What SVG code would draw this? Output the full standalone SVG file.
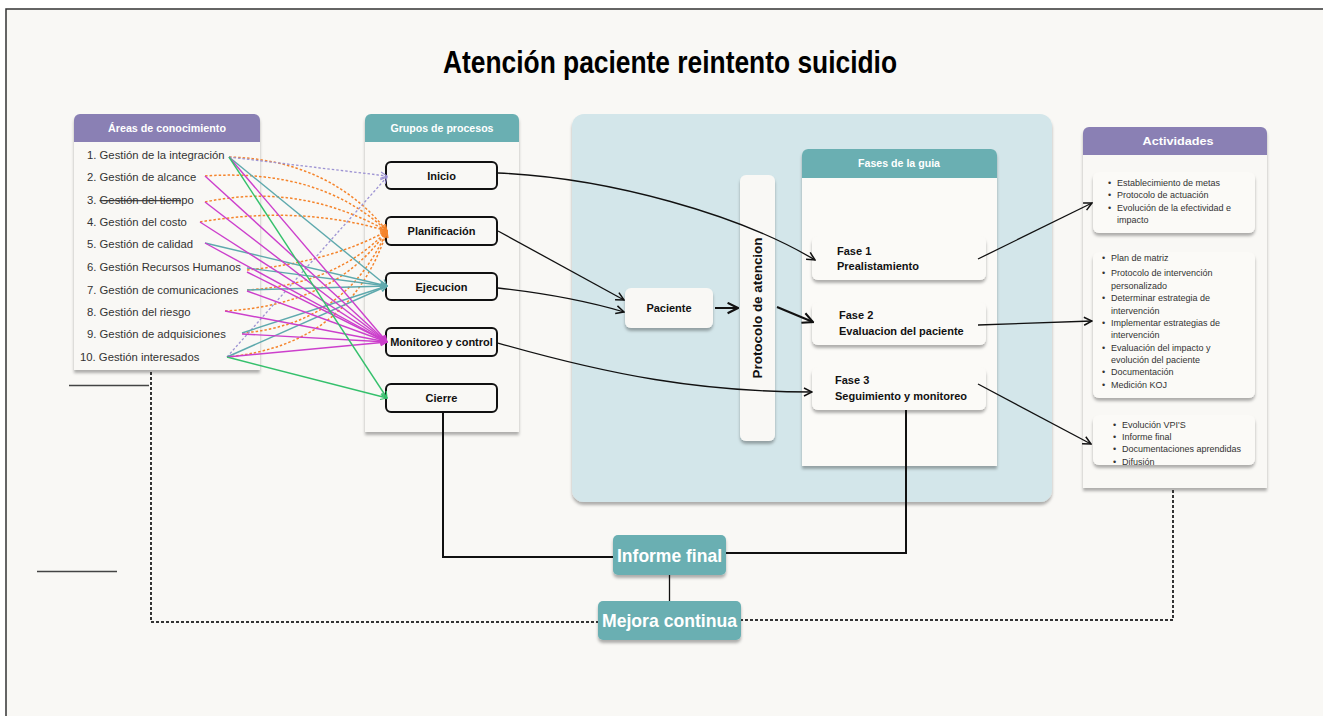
<svg xmlns="http://www.w3.org/2000/svg" width="1323" height="716" viewBox="0 0 1323 716">
<style>
text{font-family:"Liberation Sans",Arial,sans-serif}
.hdr{fill:#fff;font-weight:bold;font-size:11px;text-anchor:middle}
.item{fill:#333;font-size:11.3px}
.pbox{fill:#f9f8f5;stroke:#111;stroke-width:2}
.ptxt{fill:#111;font-weight:bold;font-size:11px;text-anchor:middle}
.ftxt{fill:#111;font-weight:bold;font-size:11px}
.atxt{fill:#333;font-size:9px}
.big{fill:#fff;font-weight:bold;font-family:"Liberation Sans Narrow","Liberation Sans",Arial,sans-serif;font-size:19px;text-anchor:middle}
.or{fill:none;stroke:#f5842b;stroke-width:1.5;stroke-dasharray:2.5 2}
.pu{fill:none;stroke:#9d93d3;stroke-width:1.3;stroke-dasharray:2.5 2}
.te{fill:none;stroke:#5ea9ad;stroke-width:1.4}
.ma{fill:none;stroke:#cc3fcc;stroke-width:1.4}
.gr{fill:none;stroke:#35c06c;stroke-width:1.4}
.bk{fill:none;stroke:#111;stroke-width:1.3}
.bk2{fill:none;stroke:#111;stroke-width:2}
.dot{fill:none;stroke:#333;stroke-width:2;stroke-dasharray:3 2}
</style>
<defs>
<filter id="sh" x="-10%" y="-10%" width="120%" height="130%"><feDropShadow dx="0" dy="3" stdDeviation="1.5" flood-color="#000" flood-opacity="0.3"/></filter>
<marker id="m-or" viewBox="0 0 10 10" refX="9" refY="5" markerWidth="8" markerHeight="8" orient="auto" markerUnits="userSpaceOnUse"><path d="M1,1 L9,5 L1,9" fill="none" stroke="#f5842b" stroke-width="1.5"/></marker>
<marker id="m-pu" viewBox="0 0 10 10" refX="9" refY="5" markerWidth="8" markerHeight="8" orient="auto" markerUnits="userSpaceOnUse"><path d="M1,1 L9,5 L1,9" fill="none" stroke="#9d93d3" stroke-width="1.5"/></marker>
<marker id="m-te" viewBox="0 0 10 10" refX="9" refY="5" markerWidth="8" markerHeight="8" orient="auto" markerUnits="userSpaceOnUse"><path d="M1,1 L9,5 L1,9" fill="none" stroke="#5ea9ad" stroke-width="1.5"/></marker>
<marker id="m-ma" viewBox="0 0 10 10" refX="9" refY="5" markerWidth="8" markerHeight="8" orient="auto" markerUnits="userSpaceOnUse"><path d="M1,1 L9,5 L1,9" fill="none" stroke="#cc3fcc" stroke-width="1.5"/></marker>
<marker id="m-gr" viewBox="0 0 10 10" refX="9" refY="5" markerWidth="8" markerHeight="8" orient="auto" markerUnits="userSpaceOnUse"><path d="M1,1 L9,5 L1,9" fill="none" stroke="#35c06c" stroke-width="1.5"/></marker>
<marker id="m-bk" viewBox="0 0 10 10" refX="9" refY="5" markerWidth="10" markerHeight="10" orient="auto" markerUnits="userSpaceOnUse"><path d="M1,1 L9,5 L1,9" fill="none" stroke="#111" stroke-width="1.5"/></marker>
<marker id="m-bk2" viewBox="0 0 10 10" refX="9" refY="5" markerWidth="13" markerHeight="13" orient="auto" markerUnits="userSpaceOnUse"><path d="M1,1 L9,5 L1,9" fill="none" stroke="#111" stroke-width="1.6"/></marker>
</defs>

<rect x="0" y="0" width="1323" height="716" fill="#ffffff"/>
<rect x="6" y="9" width="1317" height="707" fill="#f9f8f5"/>
<path d="M6,716 V9 H1323" fill="none" stroke="#333" stroke-width="1.5"/>

<text x="670" y="73" text-anchor="middle" font-family="Liberation Sans Narrow,Liberation Sans,Arial,sans-serif" font-weight="bold" font-size="31" fill="#000" textLength="454" lengthAdjust="spacingAndGlyphs">Atención paciente reintento suicidio</text>

<g id="decor-lines">
<line x1="69" y1="385.5" x2="149" y2="385.5" stroke="#444" stroke-width="1.5"/>
<line x1="37" y1="571.5" x2="117" y2="571.5" stroke="#444" stroke-width="1.5"/>
</g>

<g id="blue-panel">
<rect x="572" y="114" width="480" height="388" rx="12" fill="#d3e6ea" filter="url(#sh)"/>
</g>

<g id="areas">
<path d="M74,370 V120 a6,6 0 0 1 6,-6 H254 a6,6 0 0 1 6,6 V370 Z" fill="#f9f8f5" filter="url(#sh)"/>
<path d="M74,142 V120 a6,6 0 0 1 6,-6 H254 a6,6 0 0 1 6,6 V142 Z" fill="#8a80b4"/>
<text class="hdr" x="167" y="132" textLength="118" lengthAdjust="spacingAndGlyphs">Áreas de conocimiento</text>
<text class="item" x="87" y="159">1. Gestión de la integración</text>
<text class="item" x="87" y="181">2. Gestión de alcance</text>
<text class="item" x="87" y="204">3. <tspan text-decoration="line-through">Gestión del tiem</tspan>po</text>
<text class="item" x="87" y="226">4. Gestión del costo</text>
<text class="item" x="87" y="248">5. Gestión de calidad</text>
<text class="item" x="87" y="271">6. Gestión Recursos Humanos</text>
<text class="item" x="87" y="294">7. Gestión de comunicaciones</text>
<text class="item" x="87" y="316">8. Gestión del riesgo</text>
<text class="item" x="87" y="338">9. Gestión de adquisiciones</text>
<text class="item" x="80" y="361">10. Gestión interesados</text>
</g>

<g id="grupos">
<path d="M365,432 V120 a6,6 0 0 1 6,-6 H513 a6,6 0 0 1 6,6 V432 Z" fill="#f9f8f5" filter="url(#sh)"/>
<path d="M365,142 V120 a6,6 0 0 1 6,-6 H513 a6,6 0 0 1 6,6 V142 Z" fill="#6aafb2"/>
<text class="hdr" x="442" y="132" textLength="103" lengthAdjust="spacingAndGlyphs">Grupos de procesos</text>
</g>
<g id="inicio"><rect class="pbox" x="386" y="162" width="111" height="27" rx="5"/><text class="ptxt" x="441.5" y="180">Inicio</text></g>
<g id="planificacion"><rect class="pbox" x="386" y="217" width="111" height="28" rx="5"/><text class="ptxt" x="441.5" y="235">Planificación</text></g>
<g id="ejecucion"><rect class="pbox" x="386" y="273" width="111" height="27" rx="5"/><text class="ptxt" x="441.5" y="291">Ejecucion</text></g>
<g id="monitoreo"><rect class="pbox" x="386" y="328" width="111" height="28" rx="5"/><text class="ptxt" x="441.5" y="346">Monitoreo y control</text></g>
<g id="cierre"><rect class="pbox" x="386" y="384" width="111" height="28" rx="5"/><text class="ptxt" x="441.5" y="402">Cierre</text></g>

<g id="paciente"><rect x="625" y="288" width="88" height="40" rx="6" fill="#f9f8f5" filter="url(#sh)"/><text class="ptxt" x="669" y="312">Paciente</text></g>

<g id="protocolo"><rect x="740" y="175" width="35" height="266" rx="6" fill="#f9f8f5" filter="url(#sh)"/>
<text x="0" y="0" transform="translate(762,308) rotate(-90)" text-anchor="middle" font-weight="bold" font-size="13" fill="#111" textLength="141" lengthAdjust="spacingAndGlyphs">Protocolo de atencion</text></g>

<g id="fases">
<path d="M802,466 V155 a6,6 0 0 1 6,-6 H991 a6,6 0 0 1 6,6 V466 Z" fill="#fbfaf7" filter="url(#sh)"/>
<path d="M802,178 V155 a6,6 0 0 1 6,-6 H991 a6,6 0 0 1 6,6 V178 Z" fill="#6aafb2"/>
<text class="hdr" x="899" y="167" textLength="82" lengthAdjust="spacingAndGlyphs">Fases de la guia</text>
</g>
<g id="fase1"><rect x="812" y="236" width="174" height="44" rx="6" fill="#fbfaf7" filter="url(#sh)"/><text class="ftxt" x="837" y="255">Fase 1</text><text class="ftxt" x="837" y="270">Prealistamiento</text></g>
<g id="fase2"><rect x="812" y="302" width="174" height="43" rx="6" fill="#fbfaf7" filter="url(#sh)"/><text class="ftxt" x="839" y="319">Fase 2</text><text class="ftxt" x="839" y="335">Evaluacion del paciente</text></g>
<g id="fase3"><rect x="812" y="367" width="174" height="43" rx="6" fill="#fbfaf7" filter="url(#sh)"/><text class="ftxt" x="835" y="384">Fase 3</text><text class="ftxt" x="835" y="400">Seguimiento y monitoreo</text></g>

<g id="actividades">
<path d="M1083,488 V133 a6,6 0 0 1 6,-6 H1261 a6,6 0 0 1 6,6 V488 Z" fill="#f9f8f5" filter="url(#sh)"/>
<path d="M1083,155 V133 a6,6 0 0 1 6,-6 H1261 a6,6 0 0 1 6,6 V155 Z" fill="#8a80b4"/>
<text class="hdr" x="1178" y="145" textLength="71" lengthAdjust="spacingAndGlyphs">Actividades</text>
</g>
<g id="act1"><rect x="1093" y="172" width="162" height="61" rx="6" fill="#fbfaf7" filter="url(#sh)"/>
<text class="atxt"><tspan x="1108" y="186">•</tspan><tspan x="1117" y="186">Establecimiento de metas</tspan><tspan x="1108" y="198">•</tspan><tspan x="1117" y="198">Protocolo de actuación</tspan><tspan x="1108" y="211">•</tspan><tspan x="1117" y="211">Evolución de la efectividad e</tspan><tspan x="1117" y="223">impacto</tspan></text></g>
<g id="act2"><rect x="1093" y="252" width="162" height="146" rx="6" fill="#fbfaf7" filter="url(#sh)"/>
<text class="atxt"><tspan x="1102" y="261">•</tspan><tspan x="1111" y="261">Plan de matriz</tspan><tspan x="1102" y="276">•</tspan><tspan x="1111" y="276">Protocolo de intervención</tspan><tspan x="1111" y="289">personalizado</tspan><tspan x="1102" y="301">•</tspan><tspan x="1111" y="301">Determinar estrategia de</tspan><tspan x="1111" y="314">intervención</tspan><tspan x="1102" y="326">•</tspan><tspan x="1111" y="326">Implementar estrategias de</tspan><tspan x="1111" y="338">intervención</tspan><tspan x="1102" y="351">•</tspan><tspan x="1111" y="351">Evaluación del impacto y</tspan><tspan x="1111" y="363">evolución del paciente</tspan><tspan x="1102" y="375">•</tspan><tspan x="1111" y="375">Documentación</tspan><tspan x="1102" y="388">•</tspan><tspan x="1111" y="388">Medición KOJ</tspan></text></g>
<g id="act3"><rect x="1093" y="415" width="162" height="50" rx="6" fill="#fbfaf7" filter="url(#sh)"/>
<text class="atxt"><tspan x="1113" y="428">•</tspan><tspan x="1122" y="428">Evolución VPI'S</tspan><tspan x="1113" y="440">•</tspan><tspan x="1122" y="440">Informe final</tspan><tspan x="1113" y="452">•</tspan><tspan x="1122" y="452">Documentaciones aprendidas</tspan><tspan x="1113" y="465">•</tspan><tspan x="1122" y="465">Difusión</tspan></text></g>

<g id="informe"><rect x="613" y="535" width="113" height="40" rx="5" fill="#6aafb2" filter="url(#sh)"/><text class="big" x="669.5" y="562" textLength="105" lengthAdjust="spacingAndGlyphs">Informe final</text></g>
<g id="mejora"><rect x="598" y="601" width="143" height="39" rx="5" fill="#6aafb2" filter="url(#sh)"/><text class="big" x="669.5" y="627" textLength="135" lengthAdjust="spacingAndGlyphs">Mejora continua</text></g>

<g id="connectors">
<path class="or" d="M229,157 Q330,160 387,231" marker-end="url(#m-or)"/>
<path class="or" d="M205,176 Q320,168 387,231" marker-end="url(#m-or)"/>
<path class="or" d="M205,202 Q300,182 387,231" marker-end="url(#m-or)"/>
<path class="or" d="M200,222 Q300,205 387,231" marker-end="url(#m-or)"/>
<path class="or" d="M247,270 Q330,262 387,231" marker-end="url(#m-or)"/>
<path class="or" d="M247,290 Q335,285 387,231" marker-end="url(#m-or)"/>
<path class="or" d="M225,311 Q335,305 387,231" marker-end="url(#m-or)"/>
<path class="or" d="M242,333 Q345,325 387,231" marker-end="url(#m-or)"/>
<path class="or" d="M227,357 Q350,345 387,231" marker-end="url(#m-or)"/>

<path class="pu" d="M229,157 L387,176" marker-end="url(#m-pu)"/>
<path class="pu" d="M227,357 L387,177" marker-end="url(#m-pu)"/>

<path class="te" d="M229,157 L387,286" marker-end="url(#m-te)"/>
<path class="te" d="M205,243 L387,286" marker-end="url(#m-te)"/>
<path class="te" d="M247,268 L387,286" marker-end="url(#m-te)"/>
<path class="te" d="M247,290 L387,286" marker-end="url(#m-te)"/>
<path class="te" d="M242,333 L387,286" marker-end="url(#m-te)"/>
<path class="te" d="M227,357 L387,286" marker-end="url(#m-te)"/>

<path class="ma" d="M229,157 L387,342" marker-end="url(#m-ma)"/>
<path class="ma" d="M205,176 L387,342" marker-end="url(#m-ma)"/>
<path class="ma" d="M205,202 L387,342" marker-end="url(#m-ma)"/>
<path class="ma" d="M200,222 L387,342" marker-end="url(#m-ma)"/>
<path class="ma" d="M205,243 L387,342" marker-end="url(#m-ma)"/>
<path class="ma" d="M247,272 L387,342" marker-end="url(#m-ma)"/>
<path class="ma" d="M247,291 L387,342" marker-end="url(#m-ma)"/>
<path class="ma" d="M225,311 L387,342" marker-end="url(#m-ma)"/>
<path class="ma" d="M242,334 L387,342" marker-end="url(#m-ma)"/>
<path class="ma" d="M227,357 L387,342" marker-end="url(#m-ma)"/>

<path class="gr" d="M229,157 L387,398" marker-end="url(#m-gr)"/>
<path class="gr" d="M227,357 L387,398" marker-end="url(#m-gr)"/>

<path class="bk" d="M498,173 C610,178 740,215 815,260" marker-end="url(#m-bk)"/>
<path class="bk" d="M498,231 L624,300" marker-end="url(#m-bk)"/>
<path class="bk" d="M498,288 Q570,296 624,312" marker-end="url(#m-bk)"/>
<path class="bk" d="M498,343 C610,375 700,392 812,392" marker-end="url(#m-bk)"/>
<path class="bk2" d="M715,308 L738,308" marker-end="url(#m-bk2)"/>
<path class="bk2" d="M777,307 L813,322" marker-end="url(#m-bk2)"/>
<path class="bk" d="M978,259 L1092,203" marker-end="url(#m-bk)"/>
<path class="bk" d="M978,325 L1092,321" marker-end="url(#m-bk)"/>
<path class="bk" d="M978,384 L1091,444" marker-end="url(#m-bk)"/>

<path class="bk2" d="M443,412 V557 H613"/>
<path class="bk2" d="M906,410 V553 H726"/>
<path class="bk" d="M669.5,575 V601" stroke-width="1.5"/>
<path class="dot" d="M151,372 V622 H598"/>
<path class="dot" d="M1173,490 V620 H741"/>
</g>
</svg>
